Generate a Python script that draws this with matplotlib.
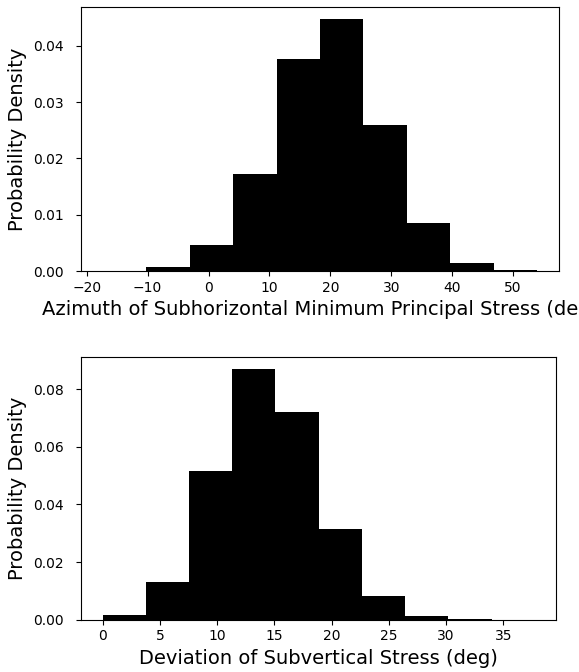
import numpy as np
import matplotlib
matplotlib.use('Agg')
import matplotlib.pyplot as plt

# bin edges and densities
azimuth_edges = [-17.37, -10.24, -3.10, 4.03, 11.17, 18.30, 25.44, 32.58, 39.71, 46.85, 53.98]
azimuth_density = [0.00002, 0.00065, 0.0046, 0.0173, 0.0376, 0.0447,
                   0.0260, 0.0085, 0.0015, 0.00024]

deviation_edges = [0.0, 3.775, 7.55, 11.33, 15.1, 18.88, 22.65, 26.43, 30.2, 33.98, 37.75]
deviation_density = [0.0017, 0.0130, 0.0517, 0.0869, 0.0720, 0.0316,
                     0.0081, 0.0014, 0.00035, 0.00003]

fig = plt.figure(figsize=(5.79, 6.72), dpi=100)
ax1 = fig.add_axes([0.1399, 0.5967, 0.8256, 0.3933])
ax2 = fig.add_axes([0.1399, 0.0778, 0.8209, 0.3914])

for ax, edges, dens, label in [
        (ax1, azimuth_edges, azimuth_density,
         'Azimuth of Subhorizontal Minimum Principal Stress (deg)'),
        (ax2, deviation_edges, deviation_density,
         'Deviation of Subvertical Stress (deg)')]:
    e = np.array(edges)
    centers = (e[:-1] + e[1:]) / 2
    ax.hist(centers, bins=e, weights=dens, color='black')
    ax.set_xlabel(label, fontsize=14)
    ax.set_ylabel('Probability Density', fontsize=14)
    ax.tick_params(axis='y', pad=9)

ax1.set_xticks([-20, -10, 0, 10, 20, 30, 40, 50])
ax2.set_xticks([0, 5, 10, 15, 20, 25, 30, 35])

fig.savefig('out.png', dpi=100)
